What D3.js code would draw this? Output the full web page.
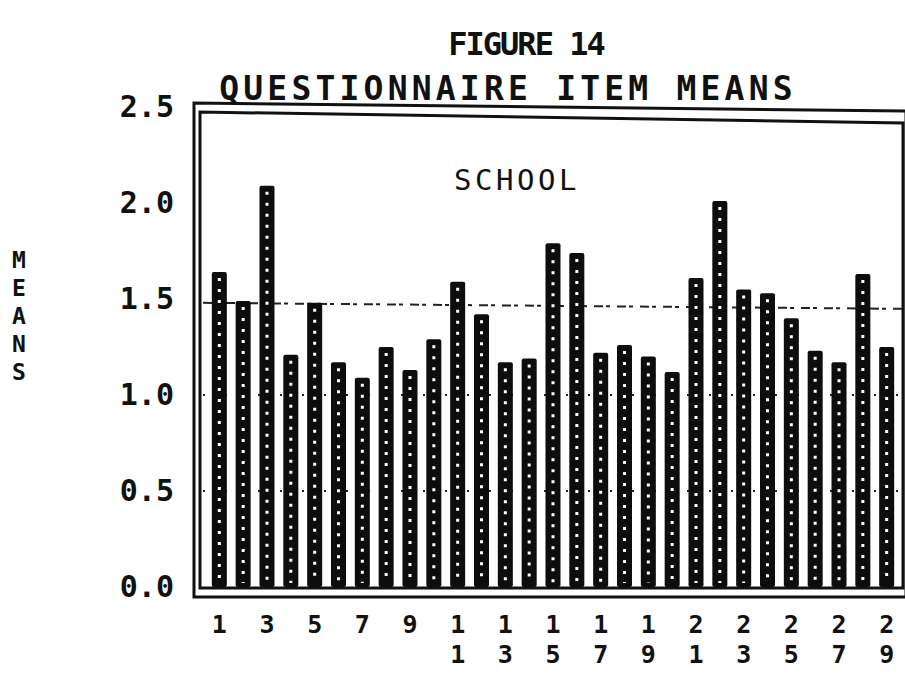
<!DOCTYPE html>
<html>
<head>
<meta charset="utf-8">
<script src="https://cdn.jsdelivr.net/npm/d3@7.9.0/dist/d3.min.js"></script>
<style>
  body { margin: 0; background: #fff; }
  svg { display: block; }
  text { font-family: "DejaVu Sans Mono", monospace; fill: #111; }
</style>
</head>
<body>
<svg id="chart" width="905" height="677"></svg>
<script>
// item numbers and their means
const items = [1, 2, 3, 4, 5, 6, 7, 8, 9, 10, 11, 12, 13, 14, 15,
  16, 17, 18, 19, 20, 21, 22, 23, 24, 25, 26, 27, 28, 29];
const means = [1.64, 1.49, 2.09, 1.21, 1.48, 1.17, 1.09, 1.25, 1.13, 1.29,
  1.59, 1.42, 1.17, 1.19, 1.79, 1.74, 1.22, 1.26, 1.20, 1.12,
  1.61, 2.01, 1.55, 1.53, 1.40, 1.23, 1.17, 1.63, 1.25];
const yTicks = [0, 0.5, 1.0, 1.5, 2.0, 2.5];
const xLabels = [1, 3, 5, 7, 9, 11, 13, 15, 17, 19, 21, 23, 25, 27, 29];
const dottedLines = [0.5, 1.0];
const overallLine = 1.48;

const svg = d3.select('#chart');

const x = d3.scaleBand()
  .domain(items)
  .range([203, 903])
  .padding(0.37);

const y = d3.scaleLinear()
  .domain([0, 2.5])
  .range([587, 107]);

// titles
svg.append('text')
  .attr('x', 526).attr('y', 55)
  .attr('text-anchor', 'middle')
  .attr('font-size', 32)
  .attr('font-weight', 'bold')
  .attr('letter-spacing', -2)
  .text('FIGURE 14');

svg.append('text')
  .attr('x', 508).attr('y', 100)
  .attr('text-anchor', 'middle')
  .attr('font-size', 33)
  .attr('font-weight', 'bold')
  .attr('letter-spacing', 4.2)
  .text('QUESTIONNAIRE ITEM MEANS');

svg.append('text')
  .attr('x', 517).attr('y', 190)
  .attr('text-anchor', 'middle')
  .attr('font-size', 29)
  .attr('letter-spacing', 3.5)
  .text('SCHOOL');

// vertical axis title, one letter under the other
svg.append('g')
  .selectAll('text')
  .data('MEANS'.split(''))
  .join('text')
  .attr('x', 19)
  .attr('y', (d, i) => 268 + i * 28)
  .attr('text-anchor', 'middle')
  .attr('font-size', 23)
  .attr('font-weight', 'bold')
  .text(d => d);

// frames (double box)
svg.append('path')
  .attr('d', 'M194,597 L194,103 L906,111 L906,597 Z')
  .attr('fill', 'none').attr('stroke', '#111').attr('stroke-width', 3);
svg.append('path')
  .attr('d', 'M200,588 L200,112 L903,123 L903,588 Z')
  .attr('fill', 'none').attr('stroke', '#111').attr('stroke-width', 3);

// dotted grid lines
svg.append('g')
  .selectAll('line')
  .data(dottedLines)
  .join('line')
  .attr('x1', 203).attr('x2', 902)
  .attr('y1', d => y(d)).attr('y2', d => y(d))
  .attr('stroke', '#222').attr('stroke-width', 2)
  .attr('stroke-dasharray', '2 9');

// dashed reference line
svg.append('line')
  .attr('x1', 203).attr('x2', 902)
  .attr('y1', y(overallLine)).attr('y2', y(overallLine) + 6)
  .attr('stroke', '#222').attr('stroke-width', 2)
  .attr('stroke-dasharray', '9 3 4 7');

// bars
const bars = svg.append('g')
  .selectAll('g')
  .data(items.map((d, i) => ({ item: d, value: means[i] })))
  .join('g');

bars.append('rect')
  .attr('x', d => x(d.item))
  .attr('y', d => y(d.value))
  .attr('width', x.bandwidth())
  .attr('height', d => y(0) - y(d.value))
  .attr('rx', 2)
  .attr('fill', '#0d0d0d');

// speckled texture down the middle of each bar
bars.append('line')
  .attr('x1', d => x(d.item) + x.bandwidth() / 2)
  .attr('x2', d => x(d.item) + x.bandwidth() / 2)
  .attr('y1', d => y(d.value) + 6)
  .attr('y2', y(0) - 4)
  .attr('stroke', '#fff')
  .attr('stroke-width', 3)
  .attr('stroke-dasharray', '3 8');

// y axis labels
const yAxis = d3.axisLeft(y)
  .tickValues(yTicks)
  .tickFormat(d3.format('.1f'))
  .tickSize(0)
  .tickPadding(0);

svg.append('g')
  .attr('transform', 'translate(174,0)')
  .call(yAxis)
  .call(g => g.select('.domain').remove())
  .call(g => g.selectAll('text')
    .attr('font-family', '"DejaVu Sans Mono", monospace')
    .attr('font-size', 30)
    .attr('font-weight', 'bold')
    .attr('fill', '#111'));

// x labels, one text per digit so two-digit items stack
const xl = svg.append('g')
  .selectAll('g')
  .data(xLabels)
  .join('g');

xl.selectAll('text')
  .data(d => String(d).split('').map(ch => ({ ch, item: d })))
  .join('text')
  .attr('x', d => x(d.item) + x.bandwidth() / 2)
  .attr('y', (d, i) => 633 + i * 30)
  .attr('text-anchor', 'middle')
  .attr('font-size', 25)
  .attr('font-weight', 'bold')
  .text(d => d.ch);
</script>
</body>
</html>
